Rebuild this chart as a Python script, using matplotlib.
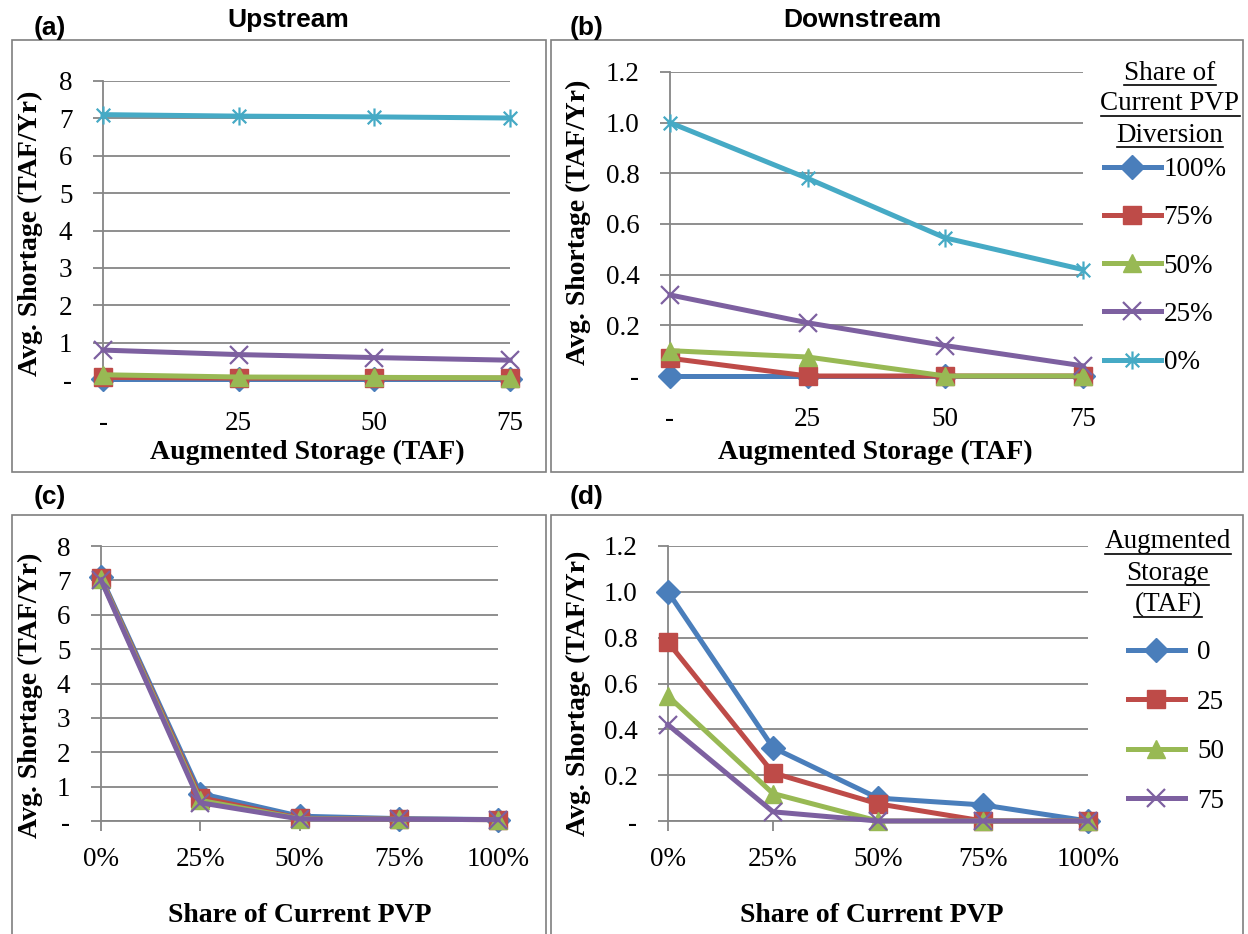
import matplotlib
matplotlib.use("Agg")
import matplotlib.pyplot as plt
from matplotlib.path import Path
from matplotlib.lines import Line2D
from matplotlib.patches import Rectangle

# ---- data ----
storage_labels = ["-", "25", "50", "75"]
storage_names = ["0", "25", "50", "75"]
share_labels = ["0%", "25%", "50%", "75%", "100%"]
share_names = ["100%", "75%", "50%", "25%", "0%"]

# upstream shortage (TAF/yr) vs augmented storage, one list per share of PVP diversion
up_100 = [0.04, 0.04, 0.04, 0.04]
up_75 = [0.07, 0.05, 0.05, 0.05]
up_50 = [0.14, 0.08, 0.07, 0.06]
up_25 = [0.80, 0.68, 0.60, 0.53]
up_0 = [7.10, 7.06, 7.04, 7.01]

# downstream shortage (TAF/yr)
dn_100 = [0.00, 0.00, 0.00, 0.00]
dn_75 = [0.07, 0.00, 0.00, 0.00]
dn_50 = [0.10, 0.075, 0.00, 0.00]
dn_25 = [0.32, 0.21, 0.12, 0.04]
dn_0 = [1.00, 0.78, 0.545, 0.42]

colors = ["#4A7EBB", "#BE4B48", "#98B954", "#7D60A0", "#46AAC5"]

star = Path([(0, -1), (0, 1), (-0.75, -0.75), (0.75, 0.75), (-0.75, 0.75), (0.75, -0.75)],
            [Path.MOVETO, Path.LINETO] * 3)
markers = [("D", 12.5), ("s", 13), ("^", 13), ("x", 13), (star, 13)]

serif = "Liberation Serif"
sans = "Liberation Sans"
grey = "#868686"
W, H = 1248, 934

fig = plt.figure(figsize=(W / 100, H / 100), dpi=100)


def px_axes(x0, y0, x1, y1):
    return fig.add_axes([x0 / W, 1 - y1 / H, (x1 - x0) / W, (y1 - y0) / H])


def style(ax, ymax, ystep, yfmt, xlabels, xpad):
    ax.set_xlim(0, len(xlabels) - 1)
    ax.set_ylim(0, ymax)
    n = int(round(ymax / ystep))
    yt = [i * ystep for i in range(n + 1)]
    ax.set_yticks(yt)
    ax.set_yticklabels(["-"] + [yfmt.format(v) for v in yt[1:]])
    ax.set_xticks(range(len(xlabels)))
    ax.set_xticklabels(xlabels)
    for s in ["top", "right"]:
        ax.spines[s].set_visible(False)
    for s in ["left", "bottom"]:
        ax.spines[s].set_color(grey)
        ax.spines[s].set_linewidth(1.3)
    ax.yaxis.grid(True, color=grey, linewidth=1.3)
    ax.set_axisbelow(True)
    ax.tick_params(axis="y", direction="out", length=7, width=1.3, color=grey, pad=15)
    ax.tick_params(axis="x", direction="out", length=7, width=1.3, color=grey, pad=xpad)
    for lab in ax.get_xticklabels() + ax.get_yticklabels():
        lab.set_fontfamily(serif)
        lab.set_fontsize(19.5)


def draw(ax, series, idx_order):
    lines = []
    for s, i in zip(series, idx_order):
        m, ms = markers[i]
        ln, = ax.plot(range(len(s)), s, color=colors[i], lw=3.6, marker=m, ms=ms,
                      mew=1.6 if i >= 3 else 1, mfc=colors[i], mec=colors[i],
                      clip_on=False, zorder=3)
        lines.append(ln)
    return lines


# (a) upstream
ax_a = px_axes(103, 81, 510, 380)
up = [up_100, up_75, up_50, up_25, up_0]
la = draw(ax_a, up, [0, 1, 2, 3, 4])
style(ax_a, 8, 1, "{:.0f}", storage_labels, 15)

# (b) downstream
ax_b = px_axes(670, 72, 1083, 376)
dn = [dn_100, dn_75, dn_50, dn_25, dn_0]
lb = draw(ax_b, dn, [0, 1, 2, 3, 4])
style(ax_b, 1.2, 0.2, "{:.1f}", storage_labels, 15)

# (c) upstream vs share (transpose of upstream table, share 0%..100%)
ax_c = px_axes(101, 546, 498, 821)
up_rev = up[::-1]
c_series = [[row[j] for row in up_rev] for j in range(4)]
lc = draw(ax_c, c_series, [0, 1, 2, 3])
style(ax_c, 8, 1, "{:.0f}", share_labels, 12)

# (d) downstream vs share
ax_d = px_axes(668, 546, 1088, 821)
dn_rev = dn[::-1]
d_series = [[row[j] for row in dn_rev] for j in range(4)]
ld = draw(ax_d, d_series, [0, 1, 2, 3])
style(ax_d, 1.2, 0.2, "{:.1f}", share_labels, 12)

# panel frames
for (x0, y0, x1, y1) in [(12, 40, 546, 472), (551, 40, 1243, 472),
                         (12, 515, 546, 940), (551, 515, 1243, 940)]:
    fig.add_artist(Rectangle((x0 / W, 1 - y1 / H), (x1 - x0) / W, (y1 - y0) / H,
                             transform=fig.transFigure, fill=False,
                             edgecolor="#7F7F7F", linewidth=1.2))


def ftext(x, y, s, **kw):
    return fig.text(x / W, 1 - y / H, s, **kw)


# panel letters and titles
for x, y, s in [(50, 28, "(a)"), (587, 28, "(b)"), (50, 497, "(c)"), (587, 497, "(d)")]:
    ftext(x, y, s, family=sans, weight="bold", fontsize=19, ha="center", va="center")
ftext(288, 20, "Upstream", family=sans, weight="bold", fontsize=19, ha="center", va="center")
ftext(862, 20, "Downstream", family=sans, weight="bold", fontsize=19, ha="center", va="center")

# axis labels
for x, y in [(30, 233), (578, 222), (30, 695), (578, 693)]:
    ftext(x, y, "Avg. Shortage (TAF/Yr)", family=serif, weight="bold", fontsize=20,
          rotation=90, ha="center", va="center")
for x, y in [(307, 452), (875, 452)]:
    ftext(x, y, "Augmented Storage (TAF)", family=serif, weight="bold", fontsize=20,
          ha="center", va="center")
for x, y in [(300, 915), (872, 915)]:
    ftext(x, y, "Share of Current PVP", family=serif, weight="bold", fontsize=20,
          ha="center", va="center")

# legends
leg_b = ax_b.legend(lb, share_names, loc="upper left",
                    bbox_to_anchor=(1104 / W, 1 - 157 / H), bbox_transform=fig.transFigure,
                    frameon=False, handlelength=2.1, handletextpad=0.1, labelspacing=0.86,
                    borderpad=0, borderaxespad=0, prop={"family": serif, "size": 19.5})
leg_d = ax_d.legend(ld, storage_names, loc="upper left",
                    bbox_to_anchor=(1128 / W, 1 - 640 / H), bbox_transform=fig.transFigure,
                    frameon=False, handlelength=2.1, handletextpad=0.45, labelspacing=0.91,
                    borderpad=0, borderaxespad=0, prop={"family": serif, "size": 19.5})

title_texts = []
for x, y, s in [(1170, 73, "Share of"), (1170, 104, "Current PVP"), (1170, 135, "Diversion"),
                (1168, 542, "Augmented"), (1168, 573, "Storage"), (1168, 605, "(TAF)")]:
    title_texts.append(ftext(x, y, s, family=serif, fontsize=19.5, ha="center", va="center"))

# underline the legend titles
fig.canvas.draw()
r = fig.canvas.get_renderer()
for t in title_texts:
    bb = t.get_window_extent(r)
    yy = (bb.y0 + 1) / fig.bbox.height
    fig.add_artist(Line2D([bb.x0 / fig.bbox.width, bb.x1 / fig.bbox.width], [yy, yy],
                          transform=fig.transFigure, color="black", lw=1.2))

fig.savefig("out.png", dpi=100)
